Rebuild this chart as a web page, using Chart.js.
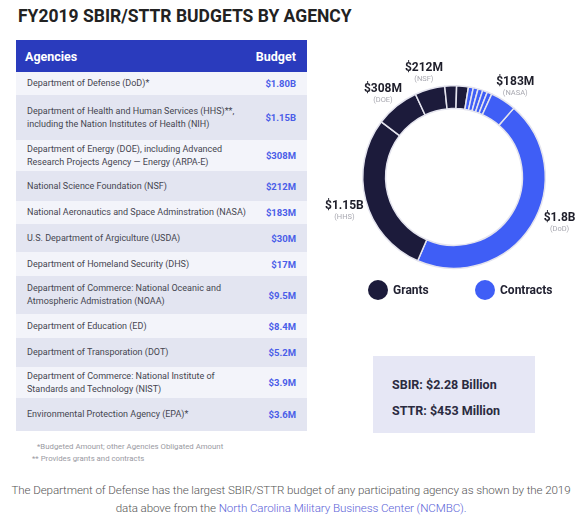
<!DOCTYPE html>
<html>
<head>
<meta charset="utf-8">
<title>FY2019 SBIR/STTR Budgets by Agency</title>
<script src="https://cdn.jsdelivr.net/npm/chart.js@4.4.0/dist/chart.umd.min.js"></script>
<style>
  body { margin: 0; width: 582px; height: 525px; background: #fff; font-family: Roboto, "Noto Sans", sans-serif; position: relative; overflow: hidden; }
  #title { position: absolute; left: 18px; top: 6px; font-size: 17.5px; line-height: 20px; font-weight: 700; color: #222; white-space: nowrap; }
  #table { position: absolute; left: 16px; top: 40px; width: 291px; }
  .head { height: 32px; background: #2a3bbd; color: #fff; font-weight: 700; font-size: 12.5px; display: flex; align-items: center; justify-content: space-between; padding: 0 11px 0 9px; box-sizing: border-box; }
  .row { display: flex; align-items: center; justify-content: space-between; padding: 0 11px; box-sizing: border-box; }
  .row:nth-child(odd) { background: #f3f4fa; }
  .row:nth-child(even) { background: #e3e5f1; }
  .name { font-size: 9px; line-height: 13px; color: #454550; white-space: pre-line; }
  .val { font-size: 9.5px; font-weight: 700; color: #4a5de8; }
  #notes { position: absolute; left: 32px; top: 441px; font-size: 7.8px; line-height: 11.5px; color: #9a9aa2; }
  #notes div:first-child { padding-left: 5px; }
  #chartBox { position: absolute; left: 304px; top: 46px; width: 300px; height: 261px; }
  #legend { position: absolute; left: 0; top: 280px; }
  .item { position: absolute; display: flex; align-items: center; font-size: 12px; font-weight: 700; color: #222232; white-space: nowrap; }
  .dot { width: 20px; height: 20px; border-radius: 50%; margin-right: 5px; }
  #summary { position: absolute; left: 373px; top: 356px; width: 162px; height: 77px; background: #e6e7f5; box-sizing: border-box; padding: 16px 0 0 19px; font-size: 12.5px; font-weight: 700; color: #2b2b40; line-height: 26px; }
  #footer { position: absolute; left: 0; top: 481px; width: 582px; text-align: center; font-size: 11.6px; line-height: 18px; font-weight: 300; color: #555; white-space: nowrap; letter-spacing: -0.1px; }
  #footer a { color: #5b63d8; text-decoration: none; }
</style>
</head>
<body>
<div id="title">FY2019 SBIR/STTR BUDGETS BY AGENCY</div>
<div id="table"></div>
<div id="notes"></div>
<div id="chartBox"><canvas id="donut"></canvas></div>
<div id="legend"></div>
<div id="summary"></div>
<div id="footer">The Department of Defense has the largest SBIR/STTR budget of any participating agency as shown by the 2019<br>data above from the <a>North Carolina Military Business Center (NCMBC).</a></div>

<script>
// Table data
var agencies = [
    'Department of Defense (DoD)*',
    'Department of Health and Human Services (HHS)**,\nincluding the Nation Institutes of Health (NIH)',
    'Department of Energy (DOE), including Advanced\nResearch Projects Agency \u2014 Energy (ARPA-E)',
    'National Science Foundation (NSF)',
    'National Aeronautics and Space Adminstration (NASA)',
    'U.S. Department of Argiculture (USDA)',
    'Department of Homeland Security (DHS)',
    'Department of Commerce: National Oceanic and\nAtmospheric Admistration (NOAA)',
    'Department of Education (ED)',
    'Department of Transporation (DOT)',
    'Department of Commerce: National Institute of\nStandards and Technology (NIST)',
    'Environmental Protection Agency (EPA)*'
];
var budgetMillions = [1800, 1150, 308, 212, 183, 30, 17, 9.5, 8.4, 5.2, 3.9, 3.6];
var footnotes = ['*Budgeted Amount; other Agencies Obligated Amount', '** Provides grants and contracts'];

// Donut data (arc sizes read from the ring, in $M, clockwise from DoD)
var sliceNames = ['DoD', 'HHS', 'DOE', 'NSF', 'USDA', 'ED', 'DHS', 'NOAA', 'DOT', 'NIST', 'EPA', 'NASA'];
var sliceValues = [1800, 1150, 308, 212, 83, 83, 34, 34, 34, 34, 34, 183];
var sliceTypes = ['Contracts', 'Grants', 'Grants', 'Grants', 'Grants', 'Grants',
    'Contracts', 'Contracts', 'Contracts', 'Contracts', 'Contracts', 'Contracts'];
var sliceLabels = ['$1.8B', '$1.15B', '$308M', '$212M', '', '', '', '', '', '', '', '$183M'];

var legendNames = ['Grants', 'Contracts'];
var summaryLines = ['SBIR: $2.28 Billion', 'STTR: $453 Million'];

// Layout
var typeColors = { Grants: '#1c1b3b', Contracts: '#3f5ef6' };
var rowHeights = [23, 45, 31, 30, 23, 28, 24, 38, 24, 29, 31, 33];
var legendLeft = [368, 475];
var labelNudgeDeg = { 0: -11 };

function formatBudget(m) {
    return m >= 1000 ? '$' + (m / 1000).toFixed(2) + 'B' : '$' + m + 'M';
}

// Build the table
var table = document.getElementById('table');
var head = document.createElement('div');
head.className = 'head';
head.innerHTML = '<span>Agencies</span><span>Budget</span>';
table.appendChild(head);
var body = document.createElement('div');
table.appendChild(body);
agencies.forEach(function (name, i) {
    var row = document.createElement('div');
    row.className = 'row';
    row.style.height = rowHeights[i] + 'px';
    var n = document.createElement('span');
    n.className = 'name';
    n.textContent = name;
    var v = document.createElement('span');
    v.className = 'val';
    v.textContent = formatBudget(budgetMillions[i]);
    row.appendChild(n);
    row.appendChild(v);
    body.appendChild(row);
});

document.getElementById('notes').innerHTML = footnotes.map(function (t) { return '<div>' + t + '</div>'; }).join('');
document.getElementById('summary').innerHTML = summaryLines.map(function (t) { return '<div>' + t + '</div>'; }).join('');

var legend = document.getElementById('legend');
legendNames.forEach(function (name, i) {
    var item = document.createElement('div');
    item.className = 'item';
    item.style.left = legendLeft[i] + 'px';
    item.innerHTML = '<span class="dot" style="background:' + typeColors[name] + '"></span>' + name;
    legend.appendChild(item);
});

// Value labels outside the ring
var sliceLabelPlugin = {
    id: 'sliceLabels',
    afterDatasetsDraw: function (chart) {
        var ctx = chart.ctx;
        var meta = chart.getDatasetMeta(0);
        ctx.save();
        ctx.textAlign = 'center';
        ctx.textBaseline = 'middle';
        meta.data.forEach(function (arc, i) {
            if (!sliceLabels[i]) return;
            var p = arc.getProps(['x', 'y', 'startAngle', 'endAngle', 'outerRadius'], true);
            var mid = (p.startAngle + p.endAngle) / 2 + (labelNudgeDeg[i] || 0) * Math.PI / 180;
            var r = p.outerRadius + 22;
            var lx = p.x + Math.cos(mid) * r;
            var ly = p.y + Math.sin(mid) * r;
            ctx.fillStyle = '#1e1e2a';
            ctx.font = 'bold 12px Roboto';
            ctx.fillText(sliceLabels[i], lx, ly);
            ctx.fillStyle = '#a8a8b0';
            ctx.font = '7.5px Roboto';
            ctx.fillText('(' + sliceNames[i] + ')', lx, ly + 11);
        });
        ctx.restore();
    }
};

var donutCtx = document.getElementById('donut').getContext('2d');
new Chart(donutCtx, {
    type: 'doughnut',
    data: {
        labels: sliceNames,
        datasets: [{
            data: sliceValues,
            backgroundColor: sliceTypes.map(function (t) { return typeColors[t]; }),
            borderColor: '#e4e4ee',
            borderWidth: 1.5
        }]
    },
    options: {
        responsive: true,
        maintainAspectRatio: false,
        animation: false,
        rotation: 41,
        cutout: '75%',
        layout: { padding: { left: 58, right: 58, top: 39, bottom: 38 } },
        plugins: { legend: { display: false }, tooltip: { enabled: false } },
        events: []
    },
    plugins: [sliceLabelPlugin]
});
</script>
</body>
</html>
